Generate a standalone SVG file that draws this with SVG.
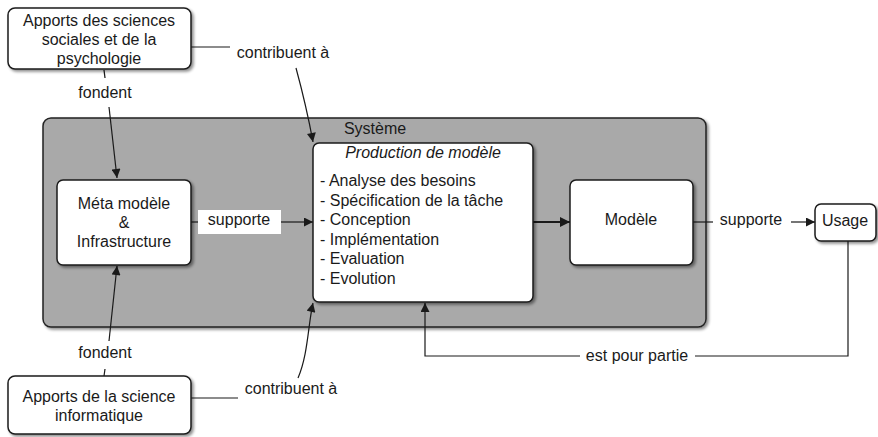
<svg xmlns="http://www.w3.org/2000/svg" width="878" height="437" viewBox="0 0 878 437">
  <style>
    text { font-family: "Liberation Sans", Arial, Helvetica, sans-serif; font-size: 16px; fill: #1a1a1a; }
    .c { text-anchor: middle; }
    .box { fill: #ffffff; stroke: #1a1a1a; stroke-width: 1.5; filter: url(#shadow); }
    .sys { fill: #a9a9a9; stroke: #222222; stroke-width: 1.5; filter: url(#shadow); }
    .edge { fill: none; stroke: #1a1a1a; stroke-width: 1.2; }
    .thick { stroke-width: 2.2; }
    .lbl-bg { fill: #ffffff; }
  </style>
  <defs>
    <filter id="shadow" x="-10%" y="-10%" width="130%" height="130%">
      <feGaussianBlur in="SourceAlpha" stdDeviation="1.5"/>
      <feOffset dx="2" dy="2" result="off"/>
      <feComponentTransfer><feFuncA type="linear" slope="0.45"/></feComponentTransfer>
      <feMerge><feMergeNode/><feMergeNode in="SourceGraphic"/></feMerge>
    </filter>
    <marker id="arrow" viewBox="0 0 10 10" refX="10" refY="5" markerWidth="10" markerHeight="9" markerUnits="userSpaceOnUse" orient="auto">
      <path d="M0,0 L10,5 L0,10 z" fill="#1a1a1a"/>
    </marker>
    <marker id="arrowBig" viewBox="0 0 10 10" refX="10" refY="5" markerWidth="13" markerHeight="10" markerUnits="userSpaceOnUse" orient="auto">
      <path d="M0,0 L10,5 L0,10 z" fill="#1a1a1a"/>
    </marker>
  </defs>

  <!-- System container -->
  <g id="systeme">
    <rect class="sys" x="43" y="118" width="663" height="209" rx="8"/>
    <text x="375" y="134" class="c">Système</text>
  </g>

  <!-- Connectors -->
  <g id="connectors">
    <!-- top contributes -->
    <path class="edge" d="M191,47 L230,47"/>
    <path class="edge" d="M296,68 C302,90 308,115 313,142" marker-end="url(#arrow)"/>
    <!-- top fondent -->
    <path class="edge" d="M104,70 L105,78"/>
    <path class="edge" d="M109,107 L117,178" marker-end="url(#arrow)"/>
    <!-- bottom fondent -->
    <path class="edge" d="M104,376 L105,369"/>
    <path class="edge" d="M109,341 L117,266" marker-end="url(#arrow)"/>
    <!-- bottom contributes -->
    <path class="edge" d="M191,398 L238,398"/>
    <path class="edge" d="M298,378 C308,355 308,325 313,303" marker-end="url(#arrow)"/>
    <!-- meta supports production -->
    <path class="edge" d="M191,222 L198,222"/>
    <path class="edge" d="M281,222 L313,222" marker-end="url(#arrow)"/>
    <!-- production to model -->
    <path class="edge thick" d="M533,222 L570,222" marker-end="url(#arrowBig)"/>
    <!-- model supports usage -->
    <path class="edge" d="M693,222 L713,222"/>
    <path class="edge" d="M791,222 L815,222" marker-end="url(#arrow)"/>
    <!-- usage is partly production -->
    <path class="edge" d="M848,241 L848,356 L695,356"/>
    <path class="edge" d="M580,356 L425,356 L425,303" marker-end="url(#arrow)"/>
  </g>

  <!-- Edge labels -->
  <g id="edge-labels">
    <text x="283" y="58" class="c">contribuent à</text>
    <text x="105" y="98" class="c">fondent</text>
    <text x="105" y="358" class="c">fondent</text>
    <text x="291" y="394" class="c">contribuent à</text>
    <rect class="lbl-bg" x="198" y="210" width="83" height="24"/>
    <text x="239" y="225" class="c">supporte</text>
    <text x="751" y="225" class="c">supporte</text>
    <text x="637" y="361" class="c">est pour partie</text>
  </g>

  <g id="sciences-sociales">
    <rect class="box" x="8" y="8" width="183" height="61" rx="7"/>
    <text x="99" y="26" class="c">Apports des sciences</text>
    <text x="99" y="45" class="c">sociales et de la</text>
    <text x="99" y="64" class="c">psychologie</text>
  </g>

  <g id="science-informatique">
    <rect class="box" x="8" y="376" width="183" height="58" rx="7"/>
    <text x="99" y="402" class="c">Apports de la science</text>
    <text x="99" y="421" class="c">informatique</text>
  </g>

  <g id="meta-modele">
    <rect class="box" x="57" y="180" width="134" height="85" rx="6"/>
    <text x="124" y="209" class="c">Méta modèle</text>
    <text x="124" y="228" class="c">&amp;</text>
    <text x="124" y="247" class="c">Infrastructure</text>
  </g>

  <g id="production">
    <rect class="box" x="313" y="143" width="220" height="159" rx="6"/>
    <text x="423" y="158" class="c" font-style="italic">Production de modèle</text>
    <text x="320" y="186">- Analyse des besoins</text>
    <text x="320" y="205.5">- Spécification de la tâche</text>
    <text x="320" y="225">- Conception</text>
    <text x="320" y="244.5">- Implémentation</text>
    <text x="320" y="264">- Evaluation</text>
    <text x="320" y="283.5">- Evolution</text>
  </g>

  <g id="modele">
    <rect class="box" x="570" y="180" width="123" height="85" rx="6"/>
    <text x="631" y="225" class="c">Modèle</text>
  </g>

  <g id="usage">
    <rect class="box" x="815" y="204" width="61" height="37" rx="6"/>
    <text x="845" y="226" class="c">Usage</text>
  </g>
</svg>
